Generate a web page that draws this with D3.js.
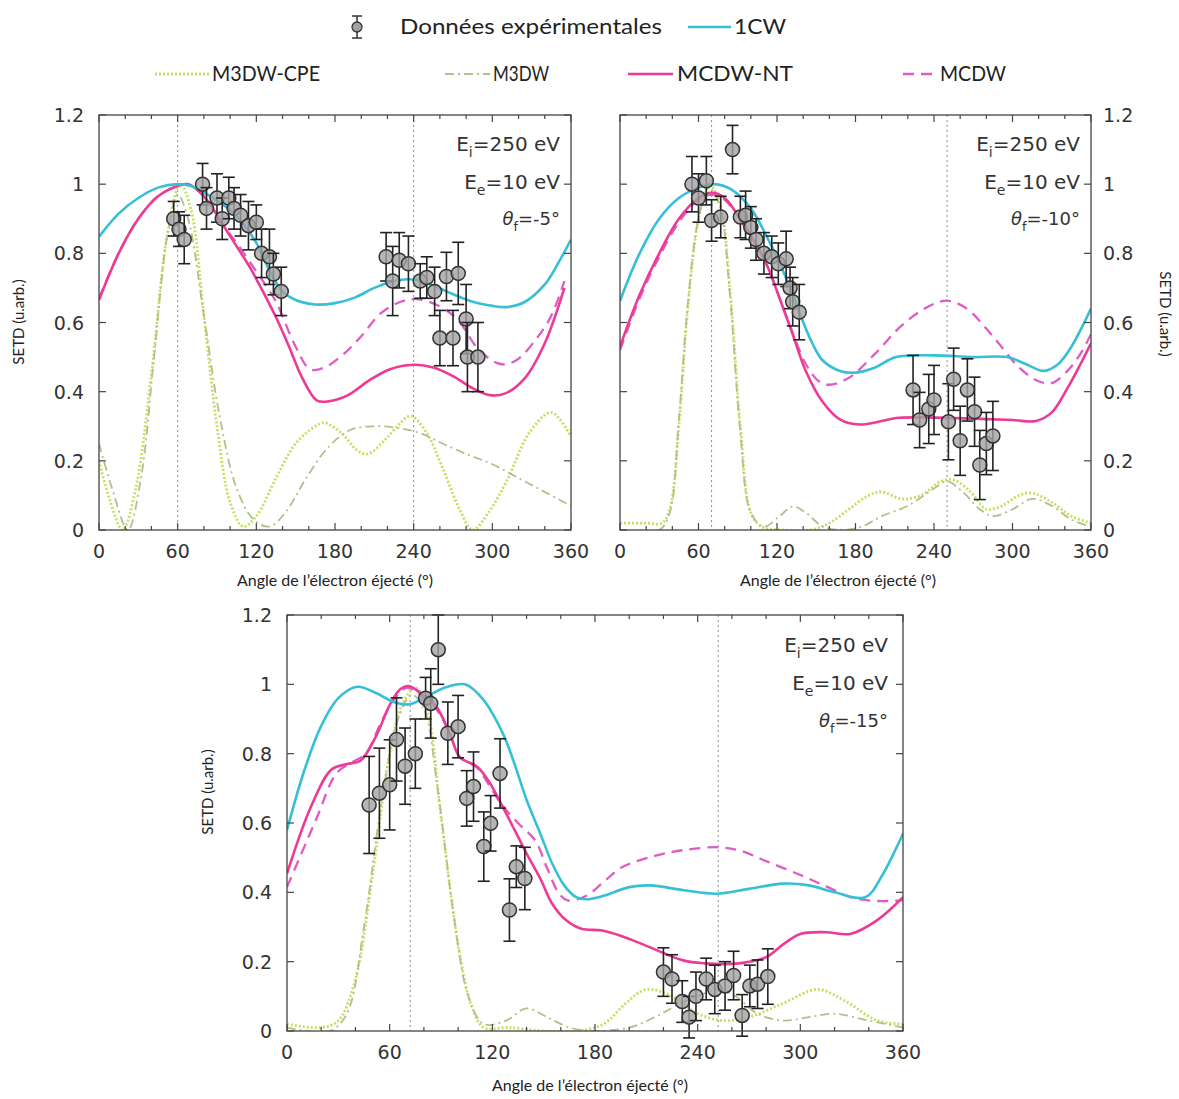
<!DOCTYPE html>
<html><head><meta charset="utf-8">
<script src="https://cdnjs.cloudflare.com/ajax/libs/d3/7.8.5/d3.min.js"></script>
<style>body{margin:0;background:#fff}</style>
</head><body>
<svg id="c" width="1179" height="1099" xmlns="http://www.w3.org/2000/svg"></svg>
<script>
// ---------- DATA ----------
const xTicks = [0, 60, 120, 180, 240, 300, 360];
const yTicks = [0, 0.2, 0.4, 0.6, 0.8, 1, 1.2];
const yTickLabels = ['0', '0.2', '0.4', '0.6', '0.8', '1', '1.2'];
const seriesNames = ['Données expérimentales', '1CW', 'M3DW-CPE', 'M3DW', 'MCDW-NT', 'MCDW'];
const thetaLabels = ['-5°', '-10°', '-15°'];
const energyLabels = ['250 eV', '10 eV'];
const xTitle = 'Angle de l’électron éjecté (°)';
const yTitle = 'SETD (u.arb.)';
const refAngles = [[60, 240], [70, 250], [72, 252]];

// Panel 1 : theta_f = -5°
const p1_1CW = [[0,0.848],[15,0.915],[30,0.96],[45,0.99],[60,1.0],[70,0.995],[85,0.965],[100,0.925],[110,0.885],[120,0.83],[130,0.75],[140,0.69],[150,0.665],[165,0.652],[180,0.656],[195,0.672],[210,0.70],[225,0.72],[237,0.725],[250,0.715],[265,0.69],[285,0.66],[300,0.648],[312,0.645],[325,0.66],[340,0.71],[350,0.77],[360,0.84]];
const p1_MCDWNT = [[0,0.665],[15,0.80],[30,0.90],[45,0.965],[60,0.995],[68,1.0],[80,0.965],[95,0.88],[105,0.82],[115,0.76],[125,0.69],[135,0.615],[145,0.53],[155,0.44],[166,0.375],[175,0.372],[190,0.39],[205,0.43],[222,0.465],[240,0.478],[255,0.47],[270,0.445],[285,0.41],[298,0.39],[310,0.395],[325,0.44],[340,0.54],[355,0.70]];
const p1_MCDW = [[0,0.67],[15,0.80],[30,0.90],[45,0.965],[60,0.995],[68,1.0],[80,0.965],[95,0.88],[105,0.83],[115,0.775],[125,0.72],[135,0.66],[150,0.53],[161,0.465],[172,0.47],[187,0.51],[200,0.56],[215,0.627],[230,0.66],[242,0.668],[258,0.65],[273,0.61],[290,0.52],[306,0.48],[318,0.49],[335,0.56],[345,0.62],[355,0.72]];
const p1_M3DWCPE = [[0,0.20],[8,0.09],[18,0.0],[28,0.12],[40,0.45],[52,0.85],[62,1.0],[70,0.93],[80,0.62],[90,0.3],[100,0.08],[110,0.01],[120,0.04],[135,0.15],[150,0.25],[165,0.30],[172,0.31],[185,0.28],[197,0.23],[205,0.22],[218,0.26],[230,0.31],[238,0.33],[250,0.28],[262,0.18],[275,0.06],[285,0.0],[297,0.05],[312,0.15],[328,0.28],[345,0.34],[360,0.27]];
const p1_M3DW = [[0,0.25],[10,0.12],[22,0.0],[32,0.15],[42,0.5],[52,0.85],[60,0.97],[68,0.9],[80,0.62],[92,0.33],[105,0.12],[118,0.03],[130,0.01],[142,0.05],[158,0.15],[175,0.24],[192,0.29],[210,0.30],[228,0.295],[245,0.28],[262,0.25],[280,0.22],[300,0.19],[320,0.15],[340,0.11],[360,0.07]];
// [angle, value, error]
const p1_exp = [[57,0.90,0.05],[61,0.87,0.05],[65,0.84,0.07],[79,1.00,0.06],[82,0.93,0.06],[90,0.96,0.07],[94,0.90,0.06],[99,0.96,0.06],[103,0.93,0.06],[108,0.91,0.06],[114,0.88,0.07],[120,0.89,0.05],[124,0.80,0.07],[130,0.79,0.08],[133,0.74,0.06],[139,0.69,0.07],
  [219,0.79,0.07],[224,0.72,0.10],[229,0.78,0.08],[236,0.77,0.08],[245,0.72,0.05],[250,0.73,0.06],[256,0.69,0.07],[260,0.555,0.08],[265,0.733,0.07],[270,0.555,0.08],[274,0.742,0.09],[280,0.61,0.10],[281,0.50,0.10],[289,0.50,0.10]];

// Panel 2 : theta_f = -10°
const p2_1CW = [[0,0.663],[15,0.80],[30,0.90],[45,0.96],[60,0.99],[72,1.0],[85,0.985],[100,0.93],[112,0.85],[121,0.78],[130,0.70],[138,0.62],[147,0.54],[155,0.49],[168,0.46],[180,0.455],[195,0.47],[211,0.50],[240,0.505],[270,0.50],[296,0.50],[310,0.48],[324,0.46],[335,0.48],[345,0.53],[360,0.64]];
const p2_MCDWNT = [[0,0.53],[15,0.68],[30,0.80],[45,0.90],[60,0.96],[70,0.975],[80,0.96],[95,0.88],[105,0.82],[113,0.76],[122,0.67],[132,0.566],[142,0.46],[155,0.37],[168,0.32],[183,0.305],[200,0.315],[211,0.324],[240,0.325],[270,0.322],[300,0.318],[318,0.315],[330,0.34],[342,0.41],[352,0.48],[360,0.54]];
const p2_MCDW = [[0,0.52],[15,0.67],[30,0.79],[45,0.89],[60,0.955],[70,0.97],[80,0.955],[95,0.88],[105,0.82],[113,0.76],[122,0.67],[132,0.57],[142,0.48],[152,0.43],[160,0.42],[175,0.44],[195,0.51],[215,0.59],[235,0.645],[250,0.663],[265,0.64],[285,0.56],[305,0.47],[320,0.43],[330,0.425],[342,0.46],[352,0.51],[360,0.566]];
const p2_M3DWCPE = [[0,0.02],[20,0.02],[32,0.02],[38,0.06],[45,0.3],[52,0.65],[60,0.9],[68,1.0],[76,0.95],[84,0.7],[92,0.3],[100,0.05],[108,0.01],[125,0.0],[145,0.0],[160,0.02],[175,0.06],[190,0.1],[200,0.11],[215,0.09],[230,0.1],[245,0.14],[255,0.145],[268,0.11],[280,0.06],[292,0.07],[305,0.1],[315,0.107],[330,0.08],[345,0.04],[360,0.02]];
const p2_M3DW = [[0,0.0],[30,0.0],[38,0.05],[45,0.32],[52,0.66],[60,0.9],[68,0.99],[76,0.94],[84,0.68],[92,0.28],[100,0.05],[110,0.01],[122,0.04],[132,0.068],[142,0.05],[155,0.01],[170,0.0],[185,0.01],[200,0.04],[220,0.07],[240,0.12],[250,0.14],[262,0.11],[275,0.06],[285,0.04],[300,0.06],[315,0.09],[330,0.07],[345,0.03],[360,0.01]];
const p2_exp = [[55,1.00,0.08],[60,0.96,0.07],[66,1.01,0.07],[70,0.895,0.06],[77,0.905,0.06],[86,1.10,0.07],[92,0.905,0.06],[96,0.91,0.07],[100,0.875,0.06],[104,0.84,0.06],[110,0.80,0.06],[116,0.79,0.06],[121,0.77,0.06],[127,0.784,0.08],[130,0.70,0.06],[132,0.66,0.07],[137,0.63,0.08],
  [224,0.405,0.10],[229,0.318,0.08],[236,0.35,0.10],[240,0.376,0.10],[251,0.313,0.11],[255,0.436,0.09],[260,0.258,0.10],[265.5,0.405,0.09],[271,0.342,0.10],[275,0.188,0.10],[280,0.25,0.09],[285,0.272,0.10]];

// Panel 3 : theta_f = -15°
const p3_1CW = [[0,0.58],[10,0.75],[20,0.88],[30,0.96],[41,0.993],[52,0.975],[62,0.95],[71,0.942],[80,0.96],[92,0.99],[104,1.0],[114,0.96],[126,0.86],[133,0.77],[140,0.667],[148,0.57],[155,0.483],[162,0.42],[169,0.386],[175,0.38],[185,0.39],[200,0.415],[212,0.42],[232,0.406],[251,0.396],[270,0.41],[290,0.425],[305,0.42],[320,0.40],[338,0.386],[348,0.45],[360,0.57]];
const p3_MCDWNT = [[0,0.454],[14,0.647],[26,0.754],[35,0.77],[43,0.78],[52,0.85],[60,0.94],[66,0.985],[71,0.995],[78,0.975],[87,0.937],[95,0.86],[101,0.79],[111,0.763],[118,0.72],[126,0.647],[133,0.58],[140,0.512],[148,0.44],[155,0.367],[163,0.32],[172,0.295],[184,0.29],[195,0.275],[208,0.25],[220,0.225],[232,0.203],[245,0.195],[256,0.193],[268,0.198],[280,0.213],[290,0.25],[300,0.28],[315,0.285],[329,0.28],[345,0.32],[360,0.386]];
const p3_MCDW = [[0,0.415],[17,0.61],[29,0.744],[38,0.775],[46,0.8],[55,0.89],[63,0.96],[70,0.99],[78,0.97],[87,0.93],[95,0.86],[101,0.79],[111,0.76],[118,0.71],[126,0.65],[135,0.6],[145,0.55],[152,0.47],[159,0.396],[164,0.377],[175,0.39],[185,0.43],[196,0.473],[215,0.505],[232,0.522],[252,0.53],[265,0.52],[280,0.49],[300,0.45],[316,0.415],[330,0.385],[345,0.375],[360,0.377]];
const p3_M3DWCPE = [[0,0.02],[20,0.01],[30,0.03],[40,0.15],[50,0.45],[60,0.8],[68,0.95],[75,0.99],[82,0.92],[90,0.62],[100,0.25],[108,0.07],[115,0.01],[130,0.01],[150,0.0],[170,0.0],[185,0.02],[198,0.08],[210,0.12],[225,0.1],[240,0.05],[255,0.03],[270,0.04],[290,0.08],[310,0.12],[325,0.09],[345,0.03],[360,0.02]];
const p3_M3DW = [[0,0.01],[25,0.0],[35,0.05],[45,0.3],[55,0.65],[65,0.9],[73,0.97],[80,0.93],[88,0.7],[97,0.35],[106,0.1],[115,0.02],[128,0.03],[140,0.065],[152,0.04],[165,0.01],[180,0.0],[200,0.01],[215,0.04],[230,0.08],[245,0.11],[252,0.12],[262,0.1],[275,0.05],[290,0.03],[305,0.04],[320,0.05],[340,0.03],[360,0.01]];
const p3_exp = [[48,0.652,0.14],[54,0.686,0.13],[60,0.71,0.13],[64,0.841,0.12],[69,0.764,0.11],[75,0.80,0.10],[81,0.96,0.06],[84,0.945,0.1],[88.4,1.10,0.1],[94,0.859,0.09],[100,0.878,0.09],[105,0.671,0.08],[109,0.705,0.1],[115,0.532,0.1],[119,0.599,0.08],[124.5,0.743,0.1],[130,0.349,0.09],[134,0.474,0.06],[139,0.44,0.09],
  [220,0.17,0.07],[225,0.15,0.07],[231,0.085,0.06],[235,0.04,0.06],[239,0.10,0.07],[245,0.15,0.06],[250,0.12,0.07],[256,0.13,0.07],[261,0.16,0.07],[266,0.045,0.06],[270.5,0.13,0.06],[275,0.135,0.07],[281,0.157,0.08]];

// ---------- LAYOUT / STYLE ----------
const styles = {
  '1CW':      {stroke:'#35c0d8', width:2.6, dash:null},
  'MCDW-NT':  {stroke:'#ee3a95', width:2.6, dash:null},
  'MCDW':     {stroke:'#de5cc4', width:2.3, dash:'11,7'},
  'M3DW-CPE': {stroke:'#bfe35e', width:2.8, dash:'2,2'},
  'M3DW':     {stroke:'#b3bf8c', width:1.8, dash:'9,4,2,4'}
};
const panels = [
  {x0:99, x1:571, y0:115, y1:530, side:'left', ref:refAngles[0], theta:thetaLabels[0], annX:560, annY:[151,189,225],
   ytx:24, yty:322, xtx:335, xty:586,
   series:{'M3DW-CPE':p1_M3DWCPE,'M3DW':p1_M3DW,'MCDW':p1_MCDW,'MCDW-NT':p1_MCDWNT,'1CW':p1_1CW}, exp:p1_exp},
  {x0:620, x1:1091, y0:115, y1:530, side:'right', ref:refAngles[1], theta:thetaLabels[1], annX:1080, annY:[151,189,225],
   ytx:1160, yty:314, xtx:838, xty:586,
   series:{'M3DW-CPE':p2_M3DWCPE,'M3DW':p2_M3DW,'MCDW':p2_MCDW,'MCDW-NT':p2_MCDWNT,'1CW':p2_1CW}, exp:p2_exp},
  {x0:287, x1:903, y0:615, y1:1031, side:'left', ref:refAngles[2], theta:thetaLabels[2], annX:888, annY:[652,690,727],
   ytx:213, yty:792, xtx:590, xty:1091,
   series:{'M3DW-CPE':p3_M3DWCPE,'M3DW':p3_M3DW,'MCDW':p3_MCDW,'MCDW-NT':p3_MCDWNT,'1CW':p3_1CW}, exp:p3_exp}
];
const tickFont = '"DejaVu Sans", Verdana, sans-serif';
const textFont = 'Lato, "Open Sans", sans-serif';

const svg = d3.select('#c');
svg.append('rect').attr('width',1179).attr('height',1099).attr('fill','#fff');

panels.forEach((p, i) => {
  const x = d3.scaleLinear().domain([0,360]).range([p.x0, p.x1]);
  const y = d3.scaleLinear().domain([0,1.2]).range([p.y1, p.y0]);
  const g = svg.append('g');
  const clipId = 'clip' + i;
  svg.append('clipPath').attr('id', clipId).append('rect')
    .attr('x', p.x0).attr('y', p.y0 - 2).attr('width', p.x1 - p.x0).attr('height', p.y1 - p.y0 + 2);

  // reference dotted verticals
  g.selectAll('line.ref').data(p.ref).join('line')
    .attr('x1', d => x(d)).attr('x2', d => x(d)).attr('y1', p.y0).attr('y2', p.y1)
    .attr('stroke', '#8a8a8a').attr('stroke-width', 1).attr('stroke-dasharray', '2,3');

  // curves
  const line = d3.line().x(d => x(d[0])).y(d => y(d[1])).curve(d3.curveCatmullRom.alpha(0.5));
  const cg = g.append('g').attr('clip-path', `url(#${clipId})`);
  Object.entries(p.series).forEach(([name, data]) => {
    const s = styles[name];
    cg.append('path').datum(data).attr('d', line)
      .attr('fill', 'none').attr('stroke', s.stroke).attr('stroke-width', s.width)
      .attr('stroke-dasharray', s.dash).attr('stroke-linejoin', 'round');
  });

  // experimental points
  const eg = g.append('g');
  const pts = eg.selectAll('g').data(p.exp).join('g');
  pts.append('line').attr('x1', d => x(d[0])).attr('x2', d => x(d[0]))
    .attr('y1', d => y(d[1] - d[2])).attr('y2', d => y(d[1] + d[2]))
    .attr('stroke', '#222').attr('stroke-width', 1.6);
  [1, -1].forEach(sg => {
    pts.append('line').attr('x1', d => x(d[0]) - 6).attr('x2', d => x(d[0]) + 6)
      .attr('y1', d => y(d[1] + sg * d[2])).attr('y2', d => y(d[1] + sg * d[2]))
      .attr('stroke', '#222').attr('stroke-width', 1.6);
  });
  pts.append('circle').attr('cx', d => x(d[0])).attr('cy', d => y(d[1])).attr('r', 7)
    .attr('fill', '#a2a2a2').attr('fill-opacity', 0.8).attr('stroke', '#333').attr('stroke-width', 1.5);

  // frame
  g.append('rect').attr('x', p.x0).attr('y', p.y0).attr('width', p.x1 - p.x0).attr('height', p.y1 - p.y0)
    .attr('fill', 'none').attr('stroke', '#444').attr('stroke-width', 1.3);

  // ticks (inward, mirrored)
  const tk = g.append('g').attr('stroke', '#444').attr('stroke-width', 1.2);
  xTicks.forEach(t => {
    tk.append('line').attr('x1', x(t)).attr('x2', x(t)).attr('y1', p.y1).attr('y2', p.y1 - 7);
    tk.append('line').attr('x1', x(t)).attr('x2', x(t)).attr('y1', p.y0).attr('y2', p.y0 + 7);
  });
  d3.range(0, 361, 20).filter(t => t % 60 !== 0).forEach(t => {
    tk.append('line').attr('x1', x(t)).attr('x2', x(t)).attr('y1', p.y1).attr('y2', p.y1 - 4);
    tk.append('line').attr('x1', x(t)).attr('x2', x(t)).attr('y1', p.y0).attr('y2', p.y0 + 4);
  });
  yTicks.forEach(t => {
    tk.append('line').attr('x1', p.x0).attr('x2', p.x0 + 7).attr('y1', y(t)).attr('y2', y(t));
    tk.append('line').attr('x1', p.x1).attr('x2', p.x1 - 7).attr('y1', y(t)).attr('y2', y(t));
  });

  // tick labels
  g.selectAll('text.xt').data(xTicks).join('text')
    .attr('x', d => x(d)).attr('y', p.y1 + 28).attr('text-anchor', 'middle')
    .attr('font-family', tickFont).attr('font-size', 19).attr('fill', '#333').text(d => d);
  g.selectAll('text.yt').data(yTicks).join('text')
    .attr('x', p.side === 'left' ? p.x0 - 15 : p.x1 + 12).attr('y', d => y(d) + 7)
    .attr('text-anchor', p.side === 'left' ? 'end' : 'start')
    .attr('font-family', tickFont).attr('font-size', 19).attr('fill', '#333')
    .text((d, k) => yTickLabels[k]);

  // axis titles
  g.append('text').attr('x', p.xtx).attr('y', p.xty).attr('text-anchor', 'middle')
    .attr('font-family', textFont).attr('font-size', 16).attr('fill', '#222').text(xTitle);
  g.append('text').attr('transform', `translate(${p.ytx},${p.yty}) rotate(${p.side === 'left' ? -90 : 90})`)
    .attr('text-anchor', 'middle').attr('font-family', textFont).attr('font-size', 15).attr('fill', '#222').text(yTitle);

  // annotations
  const ann = (yy, main, sub, rest, fs, italic) => {
    const t = g.append('text').attr('x', p.annX).attr('y', yy).attr('text-anchor', 'end')
      .attr('font-family', tickFont).attr('font-size', fs).attr('fill', '#333');
    t.append('tspan').attr('font-style', italic ? 'italic' : null).text(main);
    t.append('tspan').attr('dy', 6).attr('font-size', fs * 0.7).text(sub);
    t.append('tspan').attr('dy', -6).text(rest);
  };
  ann(p.annY[0], 'E', 'i', '=' + energyLabels[0], 20, false);
  ann(p.annY[1], 'E', 'e', '=' + energyLabels[1], 20, false);
  ann(p.annY[2], 'θ', 'f', '=' + p.theta, 18, true);
});

// ---------- LEGEND ----------
const lg = svg.append('g').attr('font-family', textFont).attr('font-size', 21).attr('fill', '#222');
// experimental symbol
lg.append('line').attr('x1', 357).attr('x2', 357).attr('y1', 16).attr('y2', 38).attr('stroke', '#333').attr('stroke-width', 1.5);
[16, 38].forEach(yy => lg.append('line').attr('x1', 352).attr('x2', 362).attr('y1', yy).attr('y2', yy).attr('stroke', '#333').attr('stroke-width', 1.5));
lg.append('circle').attr('cx', 357).attr('cy', 27).attr('r', 5).attr('fill', '#a2a2a2').attr('stroke', '#333').attr('stroke-width', 1.3);
const legendItems = [
  {name: seriesNames[0], tx: 400, ty: 34, len: 262},
  {name: seriesNames[1], lx: [688, 731], ly: 27, tx: 734, ty: 34, len: 52},
  {name: seriesNames[2], lx: [155, 209], ly: 74, tx: 212, ty: 81, len: 108},
  {name: seriesNames[3], lx: [445, 490], ly: 74, tx: 493, ty: 81, len: 56},
  {name: seriesNames[4], lx: [628, 673], ly: 74, tx: 677, ty: 81, len: 116},
  {name: seriesNames[5], lx: [903, 936], ly: 74, tx: 940, ty: 81, len: 66}
];
legendItems.forEach(it => {
  if (it.lx) {
    const s = styles[it.name];
    lg.append('line').attr('x1', it.lx[0]).attr('x2', it.lx[1]).attr('y1', it.ly).attr('y2', it.ly)
      .attr('stroke', s.stroke).attr('stroke-width', s.width).attr('stroke-dasharray', s.dash);
  }
  lg.append('text').attr('x', it.tx).attr('y', it.ty).attr('textLength', it.len)
    .attr('lengthAdjust', 'spacingAndGlyphs').text(it.name);
});
</script>
</body></html>
